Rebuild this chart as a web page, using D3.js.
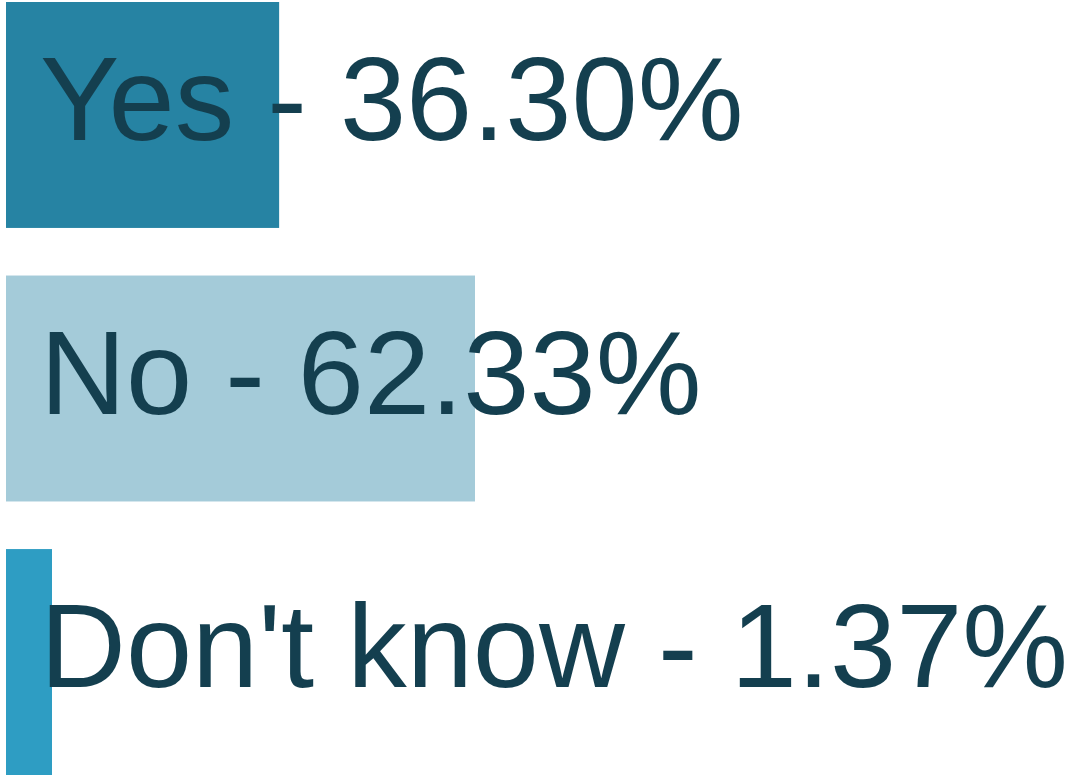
<!DOCTYPE html>
<html>
<head>
<meta charset="utf-8">
<script src="https://cdn.jsdelivr.net/npm/d3@7"></script>
<style>
  html, body { margin: 0; padding: 0; background: #fff; }
  svg { display: block; }
  .label { font-family: 'Liberation Sans', Arial, sans-serif; fill: #143f4f; }
</style>
</head>
<body>
<svg id="chart"></svg>
<script>
const categories = ['Yes', 'No', "Don't know"]
const values = [36.30, 62.33, 1.37]
const colors = ['#2683a3', '#a4cbd9', '#2e9dc3']

const width = 1071
const height = 776
const minBar = 46

const data = categories.map((c, i) => ({ name: c, value: values[i], color: colors[i] }))

const svg = d3.select('#chart')
    .attr('width', width)
    .attr('height', height)

const x = d3.scaleLinear()
    .domain([0, d3.max(values)])
    .range([6, 475])

const y = d3.scaleBand()
    .domain(categories)
    .range([2, 775])
    .paddingInner(0.174)

svg.selectAll('.bar')
    .data(data)
  .enter().append('rect')
    .attr('class', 'bar')
    .attr('x', x(0))
    .attr('y', d => y(d.name))
    .attr('height', y.bandwidth())
    .attr('width', d => Math.max(x(d.value) - x(0), minBar))
    .attr('fill', d => d.color)

svg.selectAll('.label')
    .data(data)
  .enter().append('text')
    .attr('class', 'label')
    .attr('x', 40)
    .attr('y', d => y(d.name) + y.bandwidth() / 2 + 25)
    .style('font-size', '119px')
    .text(d => `${d.name} - ${d.value.toFixed(2)}%`)
</script>
</body>
</html>
